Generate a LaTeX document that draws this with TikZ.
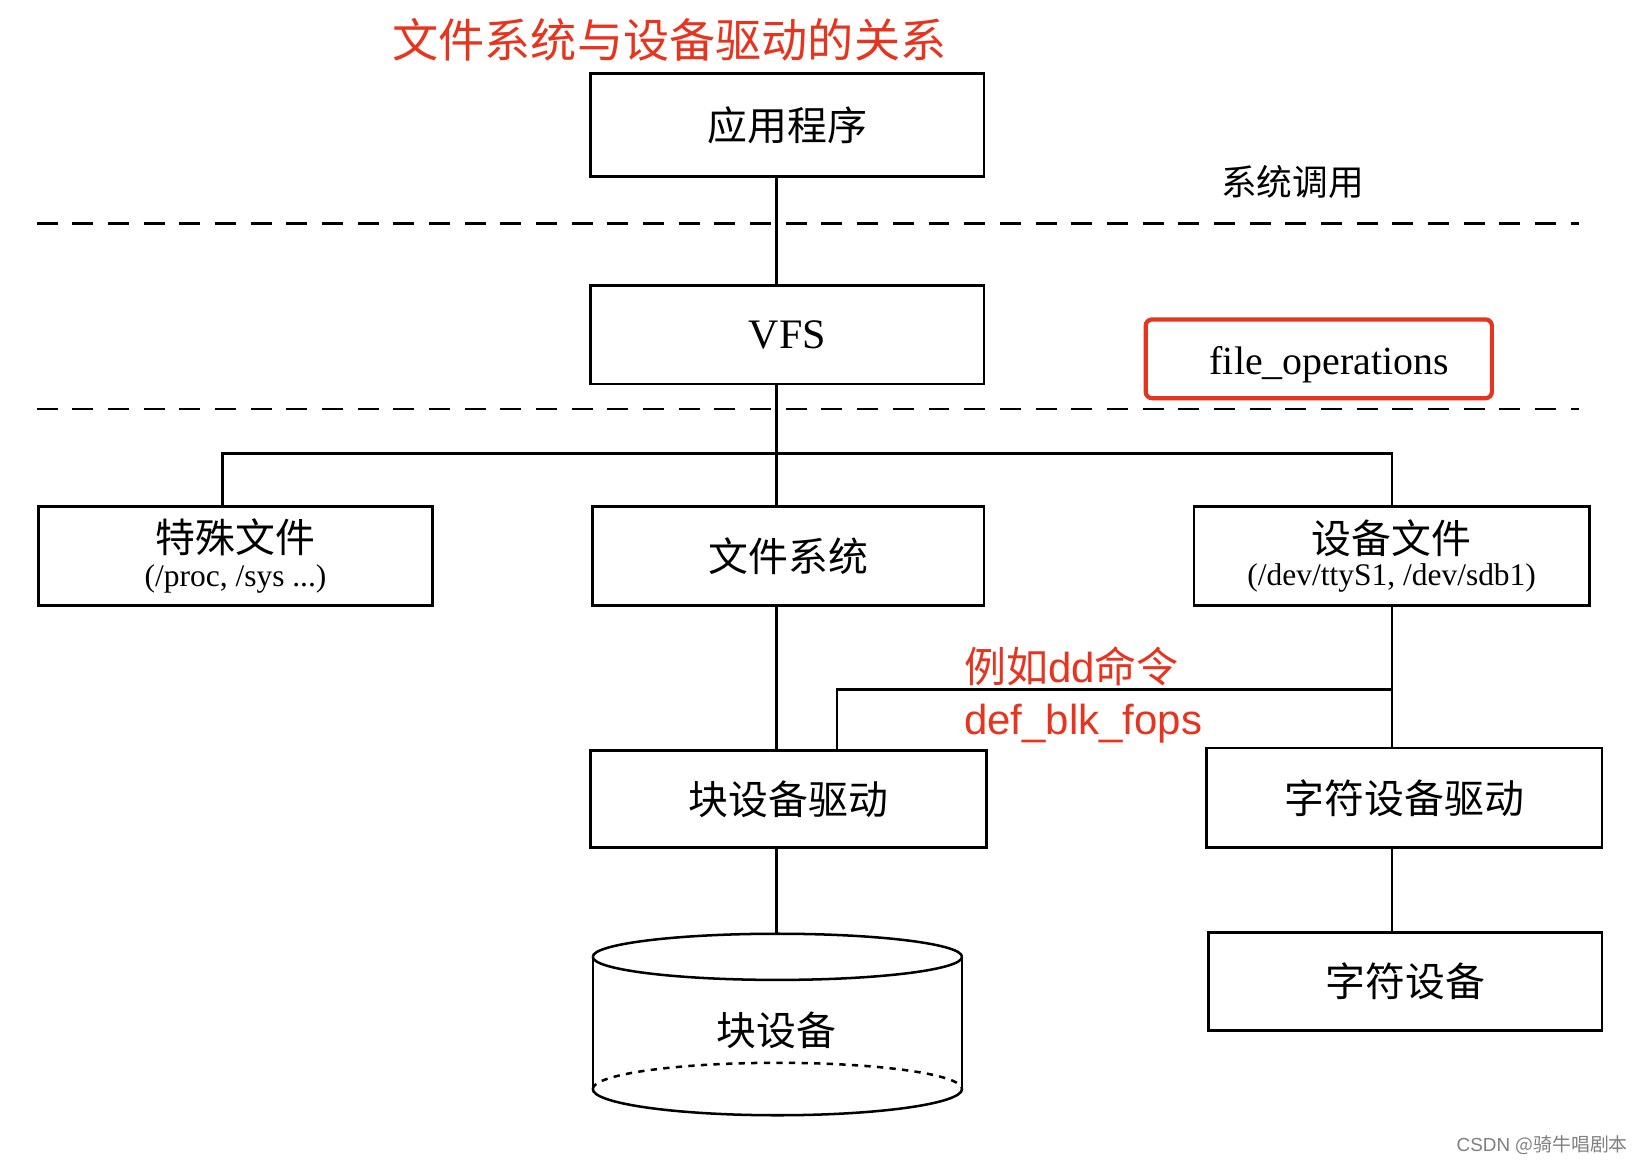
\documentclass[tikz,border=0pt]{standalone}
\usepackage{fontspec}
\setmainfont{Liberation Serif}
\newfontfamily\cjk{Noto Sans CJK SC}
\newfontfamily\sans{Liberation Sans}
\definecolor{redo}{RGB}{230,52,30}
\begin{document}
\begin{tikzpicture}[x=0.5pt,y=-0.5pt,
  bx/.style={draw,line width=1.3pt,inner sep=0pt},
  ln/.style={line width=1.2pt},
  dl/.style={line width=1.2pt,dash pattern=on 10pt off 7pt},
  cn/.style={font=\cjk\fontsize{19}{22}\selectfont},
  rd/.style={text=redo}]
\useasboundingbox (0,0) rectangle (1567,1110);
\fill[white] (0,0) rectangle (1567,1110);
\node[rd,font=\cjk\fontsize{22}{26}\selectfont] (title) at (638,38) {文件系统与设备驱动的关系};
\node[bx,minimum width=187.5pt,minimum height=49pt,cn] (app) at (750.5,119) {应用程序};
\node[font=\cjk\fontsize{17}{20}\selectfont] (sc) at (1232,173) {系统调用};
\draw[dl] (35,213) -- (1505,213);
\node[bx,minimum width=187.5pt,minimum height=47pt,font=\fontsize{20}{24}\selectfont] (vfs) at (750.5,319) {VFS};
\node[draw=redo,line width=2pt,rounded corners=3pt,minimum width=165pt,minimum height=37.5pt,font=\fontsize{19}{22}\selectfont] (fo) at (1257,342) {};
\node[font=\fontsize{19}{22}\selectfont] (fot) at (1267,348) {file\_operations};
\draw[dl] (35,390) -- (1505,390);
\node[bx,minimum width=187.5pt,minimum height=47pt,align=center] (spec) at (224.5,530) {\cjk\fontsize{19}{22}\selectfont 特殊文件\\[3pt]\fontsize{15}{18}\selectfont (/proc, /sys ...)};
\node[bx,minimum width=186.5pt,minimum height=47pt,cn] (fs) at (751.5,530) {文件系统};
\node[bx,minimum width=188.5pt,minimum height=47pt,align=center] (dev) at (1326.5,530) {\cjk\fontsize{19}{22}\selectfont 设备文件\\[3pt]\fontsize{15}{18}\selectfont (/dev/ttyS1, /dev/sdb1)};
\node[bx,minimum width=188.5pt,minimum height=46.5pt,cn] (bd) at (751.5,761.5) {块设备驱动};
\node[bx,minimum width=188.5pt,minimum height=47.5pt,cn] (cd) at (1338.5,760.5) {字符设备驱动};
\node[bx,minimum width=187.5pt,minimum height=46.5pt,cn] (cdev) at (1339.5,935.5) {字符设备};
\coordinate (cyl) at (740,890);
% cylinder
\draw[ln] (565,912) arc[start angle=180,end angle=360,x radius=176,y radius=-22] ;
\draw[ln] (565,912) arc[start angle=180,end angle=0,x radius=176,y radius=-22];
\draw[ln] (565,912) -- (565,1038);
\draw[ln] (917,912) -- (917,1038);
\draw[ln,dashed] (565,1038) arc[start angle=180,end angle=360,x radius=176,y radius=25];
\draw[ln] (565,1038) arc[start angle=180,end angle=0,x radius=176,y radius=25];
\node[cn] (blk) at (740,982) {块设备};
% connectors
\draw[ln] (app.south -| 740,0) -- (vfs.north -| 740,0);
\draw[ln] (vfs.south -| 740,0) -- (fs.north -| 740,0);
\draw[ln] (spec.north -| 212,0) |- (1327,432) -- (dev.north -| 1327,0);
\draw[ln] (fs.south -| 740,0) -- (bd.north -| 740,0);
\draw[ln] (dev.south -| 1327,0) -- (cd.north -| 1327,0);
\draw[ln] (bd.north -| 798,0) |- (1327,657);
\draw[ln] (bd.south -| 740,0) -- (cyl);
\draw[ln] (cd.south -| 1327,0) -- (cdev.north -| 1327,0);
\node[rd,anchor=west,font=\cjk\fontsize{20}{24}\selectfont] (ex1) at (912,635) {例如\sans dd\cjk 命令};
\node[rd,anchor=west,font=\sans\fontsize{20}{24}\selectfont] (ex2) at (912,690) {def\_blk\_fops};
\node[text=gray,font=\cjk\fontsize{9}{11}\selectfont] (wm) at (1470,1092) {\sans CSDN \cjk @骑牛唱剧本};
\end{tikzpicture}
\end{document}
